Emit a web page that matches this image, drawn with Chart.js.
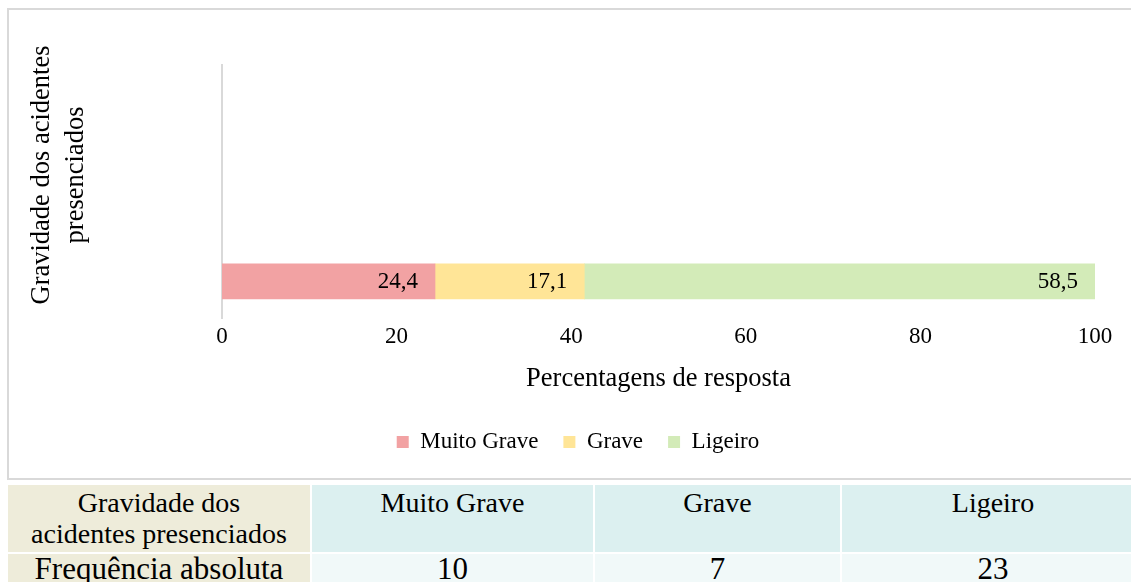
<!DOCTYPE html>
<html>
<head>
<meta charset="utf-8">
<script src="https://cdn.jsdelivr.net/npm/chart.js@4"></script>
<style>
  html, body { margin: 0; padding: 0; background: #fff; overflow: hidden; }
  body { width: 1131px; height: 582px; position: relative; font-family: 'Liberation Serif', 'Times New Roman', serif; }
  #frame { position: absolute; left: 7px; top: 8px; width: 1140px; height: 472px; box-sizing: border-box; border: 2px solid #d9d9d9; }
  #wrap { position: absolute; left: 9px; top: 10px; width: 1122px; height: 468px; }
  table { position: absolute; left: 6px; top: 483px; width: 1140px; table-layout: fixed; border-collapse: separate; border-spacing: 2px; color: #000; }
  td { text-align: center; vertical-align: top; padding: 0; overflow: hidden; white-space: nowrap; }
  col.c0 { width: 302px; }
  col.c1 { width: 281px; }
  col.c2 { width: 245px; }
  col.c3 { width: 302px; }
  tr.h td { height: 67px; background: #dcf0f0; font-size: 28px; line-height: 31px; padding-top: 2px; box-sizing: border-box; }
  tr.r td { height: 40px; background: #f1f9f9; font-size: 31px; line-height: 30px; }
  tr td.c0 { background: #eeecda; }
</style>
</head>
<body>
<div id="frame"></div>
<div id="wrap"><canvas id="chart" width="1122" height="468"></canvas></div>
<table id="tbl"></table>
<script>
// values
const categories = ['Gravidade dos acidentes presenciados'];
const seriesNames = ['Muito Grave', 'Grave', 'Ligeiro'];
const muitoGrave = [24.4];
const grave = [17.1];
const ligeiro = [58.5];
const frequencias = [10, 7, 23];
const xTicks = [0, 20, 40, 60, 80, 100];

const colors = ['#f2a2a3', '#ffe597', '#d3ebb8'];
const serif = "'Liberation Serif', 'Times New Roman', serif";

// table below the chart
const tbl = document.getElementById('tbl');
tbl.innerHTML =
  '<colgroup><col class="c0"><col class="c1"><col class="c2"><col class="c3"></colgroup>' +
  '<tr class="h"><td class="c0">Gravidade dos<br>acidentes presenciados</td>' +
  seriesNames.map((n, i) => `<td class="c${i + 1}">${n}</td>`).join('') + '</tr>' +
  '<tr class="r"><td class="c0">Frequência absoluta</td>' +
  frequencias.map((f, i) => `<td class="c${i + 1}">${f}</td>`).join('') + '</tr>';

function toPoints(values) {
  return values.map((v, i) => ({ x: v, y: i }));
}

const barLabels = {
  id: 'barLabels',
  afterDatasetsDraw(chart) {
    const ctx = chart.ctx;
    ctx.save();
    ctx.font = '23px ' + serif;
    ctx.fillStyle = '#000';
    ctx.textAlign = 'right';
    ctx.textBaseline = 'middle';
    chart.data.datasets.forEach((ds, di) => {
      chart.getDatasetMeta(di).data.forEach((bar, i) => {
        const txt = ds.data[i].x.toFixed(1).replace('.', ',');
        ctx.fillText(txt, bar.x - 17, bar.y + 1);
      });
    });
    ctx.restore();
  }
};

// the title sits a little above the middle of the axis in the original
const yTitle = ['Gravidade dos acidentes', 'presenciados'].map(s => '     ' + s);

new Chart(document.getElementById('chart'), {
  type: 'bar',
  data: {
    datasets: [
      { label: seriesNames[0], data: toPoints(muitoGrave), backgroundColor: colors[0] },
      { label: seriesNames[1], data: toPoints(grave), backgroundColor: colors[1] },
      { label: seriesNames[2], data: toPoints(ligeiro), backgroundColor: colors[2] }
    ]
  },
  options: {
    indexAxis: 'y',
    responsive: false,
    animation: false,
    barThickness: 35,
    borderWidth: 0,
    layout: { padding: { left: 52, right: 36, top: 55, bottom: 14.5 } },
    plugins: {
      legend: {
        position: 'bottom',
        labels: { boxWidth: 12, boxHeight: 12, padding: 25, color: '#000', font: { family: serif, size: 23 } }
      },
      tooltip: { enabled: false }
    },
    scales: {
      x: {
        type: 'linear',
        stacked: true,
        min: 0,
        max: 100,
        afterBuildTicks: (axis) => { axis.ticks = xTicks.map(v => ({ value: v })); },
        ticks: { color: '#000', padding: 5, font: { family: serif, size: 23 } },
        grid: { display: false, drawTicks: false },
        border: { display: false },
        title: {
          display: true,
          text: 'Percentagens de resposta',
          color: '#000',
          font: { family: serif, size: 26.5, lineHeight: 1.2 },
          padding: { top: 7, bottom: 11 }
        }
      },
      y: {
        type: 'linear',
        stacked: true,
        offset: false,
        min: -0.5,
        max: 2.95,
        ticks: { display: false },
        grid: { display: false, drawTicks: false, offset: false },
        border: { display: true, color: '#d9d9d9', width: 2 },
        afterFit: (scale) => { scale.width = 161; },
        title: {
          display: true,
          text: yTitle,
          color: '#000',
          font: { family: serif, size: 26.5, lineHeight: 1.28 },
          padding: { top: -36, bottom: 0 }
        }
      }
    }
  },
  plugins: [barLabels]
});
</script>
</body>
</html>
